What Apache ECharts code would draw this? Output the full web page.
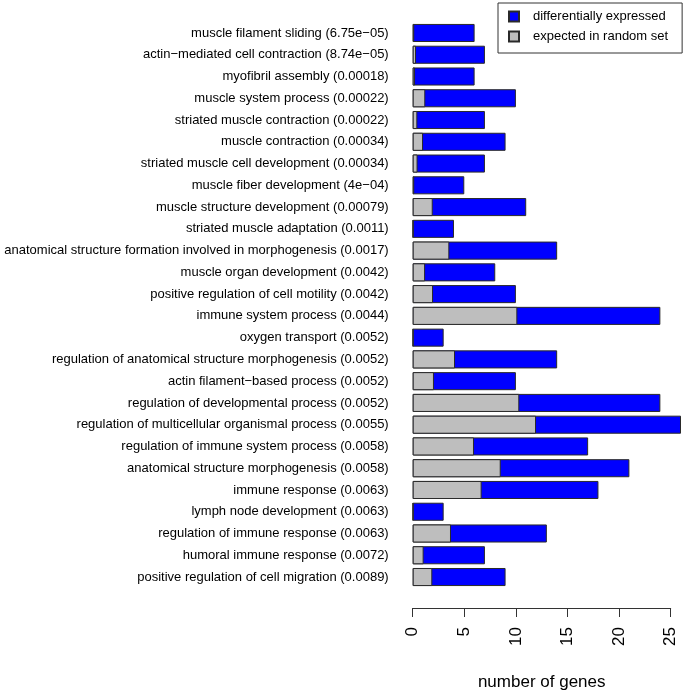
<!DOCTYPE html>
<html>
<head>
<meta charset="utf-8">
<script src="https://cdn.jsdelivr.net/npm/echarts@6/dist/echarts.min.js"></script>
<style>
    html, body { margin: 0; padding: 0; background: #fff; }
    #chart { width: 685px; height: 692px; }
</style>
</head>
<body>
<div id="chart"></div>
<script>
//类别
var categories = [
    "muscle filament sliding (6.75e\u221205)",
    "actin\u2212mediated cell contraction (8.74e\u221205)",
    "myofibril assembly (0.00018)",
    "muscle system process (0.00022)",
    "striated muscle contraction (0.00022)",
    "muscle contraction (0.00034)",
    "striated muscle cell development (0.00034)",
    "muscle fiber development (4e\u221204)",
    "muscle structure development (0.00079)",
    "striated muscle adaptation (0.0011)",
    "anatomical structure formation involved in morphogenesis (0.0017)",
    "muscle organ development (0.0042)",
    "positive regulation of cell motility (0.0042)",
    "immune system process (0.0044)",
    "oxygen transport (0.0052)",
    "regulation of anatomical structure morphogenesis (0.0052)",
    "actin filament\u2212based process (0.0052)",
    "regulation of developmental process (0.0052)",
    "regulation of multicellular organismal process (0.0055)",
    "regulation of immune system process (0.0058)",
    "anatomical structure morphogenesis (0.0058)",
    "immune response (0.0063)",
    "lymph node development (0.0063)",
    "regulation of immune response (0.0063)",
    "humoral immune response (0.0072)",
    "positive regulation of cell migration (0.0089)"
];

//差异表达基因数
var diffExpressed = [6, 7, 6, 10, 7, 9, 7, 5, 11, 4, 14, 8, 10, 24, 3, 14, 10, 24, 26, 17, 21, 18, 3, 13, 7, 9];

//随机集合期望值
var expectedRandom = [0.15, 0.32, 0.22, 1.22, 0.45, 1.0, 0.47, 0.15, 1.94, 0.05, 3.55, 1.2, 1.97, 10.14, 0.05, 4.1, 2.06, 10.33, 11.95, 5.94, 8.53, 6.68, 0.05, 3.71, 1.06, 1.9];

//刻度
var xTicks = [0, 5, 10, 15, 20, 25];

var seriesNames = ["differentially expressed", "expected in random set"];

var font = "Liberation Sans, Arial, sans-serif";
var myChart = echarts.init(document.getElementById("chart"));

var option = {
    animation: false,
    backgroundColor: "#fff",
    textStyle: { fontFamily: font },
    legend: {
        data: seriesNames,
        orient: "vertical",
        left: 498,
        top: 3,
        padding: [7, 14, 10, 10],
        itemGap: 7,
        itemWidth: 10,
        itemHeight: 10,
        icon: "rect",
        borderColor: "#333",
        borderWidth: 1,
        borderRadius: 0,
        textStyle: { fontFamily: font, fontSize: 13, color: "#000", padding: [0, 0, 0, 9] }
    },
    grid: [
        //柱子
        { left: 412.7, right: 4, top: 22.1, bottom: 104.1, containLabel: false, outerBoundsMode: "none" },
        //坐标轴 0-25
        { left: 412.7, right: 14.3, top: 22.1, bottom: 84, containLabel: false, outerBoundsMode: "none" }
    ],
    xAxis: [
        {
            gridIndex: 0,
            type: "value",
            min: 0,
            max: 26,
            axisLine: { show: false },
            axisTick: { show: false },
            axisLabel: { show: false },
            splitLine: { show: false }
        },
        {
            gridIndex: 1,
            type: "value",
            min: xTicks[0],
            max: xTicks[xTicks.length - 1],
            interval: 5,
            axisLine: { show: true, onZero: false, lineStyle: { color: "#333", width: 1 } },
            axisTick: { show: true, length: 9, lineStyle: { color: "#333" } },
            axisLabel: { rotate: 90, margin: 19, fontSize: 17, color: "#000", fontFamily: font },
            splitLine: { show: false },
            name: "number of genes",
            nameLocation: "middle",
            nameGap: 66,
            nameTextStyle: { fontSize: 17, color: "#000", fontFamily: font }
        }
    ],
    yAxis: [
        {
            gridIndex: 0,
            type: "category",
            data: categories,
            inverse: true,
            axisLine: { show: false },
            axisTick: { show: false },
            axisLabel: { margin: 24, fontSize: 13, color: "#000", fontFamily: font },
            splitLine: { show: false }
        },
        {
            gridIndex: 1,
            type: "value",
            show: false
        }
    ],
    series: [
        {
            name: seriesNames[0],
            type: "bar",
            xAxisIndex: 0,
            yAxisIndex: 0,
            data: diffExpressed,
            barWidth: "83%",
            barGap: "-100%",
            itemStyle: { color: "#0000ff", borderColor: "#2a2a2a", borderWidth: 1 }
        },
        {
            name: seriesNames[1],
            type: "bar",
            xAxisIndex: 0,
            yAxisIndex: 0,
            data: expectedRandom,
            barWidth: "83%",
            barGap: "-100%",
            itemStyle: { color: "#bebebe", borderColor: "#2a2a2a", borderWidth: 1 }
        }
    ]
};

myChart.setOption(option);
</script>
</body>
</html>
